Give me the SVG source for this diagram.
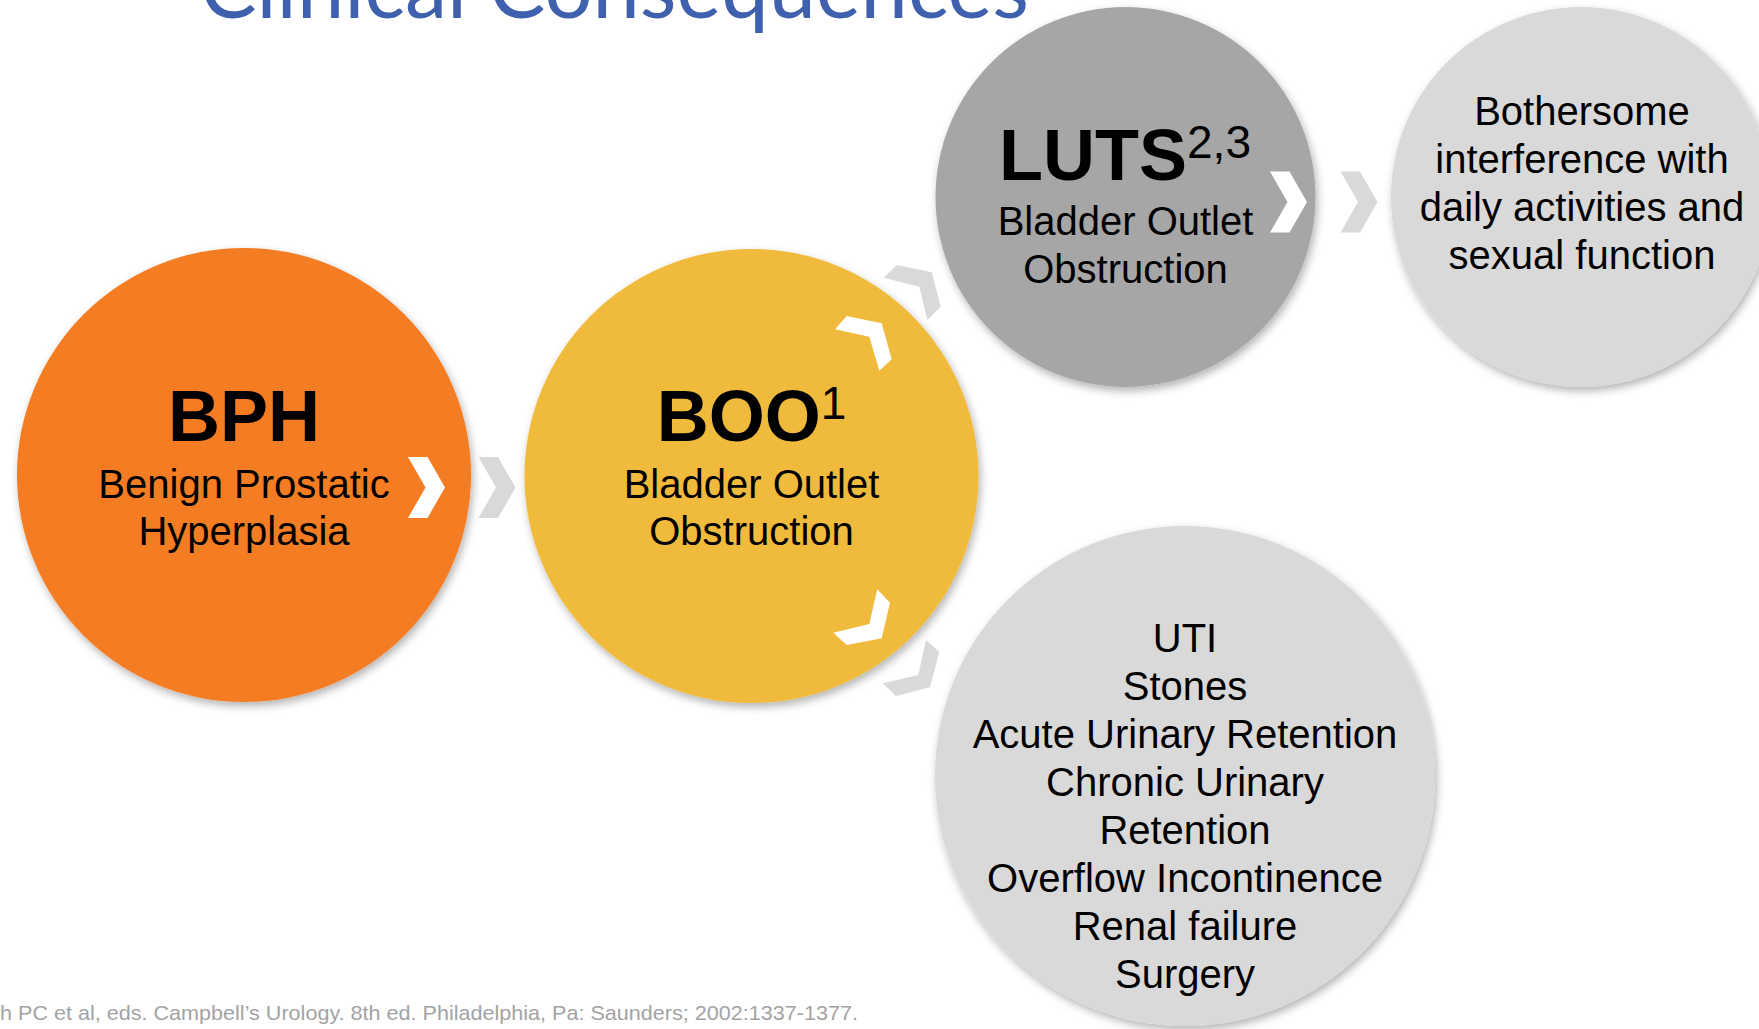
<svg xmlns="http://www.w3.org/2000/svg" xmlns:xlink="http://www.w3.org/1999/xlink" width="1759" height="1029" viewBox="0 0 1759 1029">
<style>
.t{font-family:"Liberation Sans",Arial,sans-serif;fill:#000;text-anchor:middle;}
.big{font-size:72px;font-weight:bold;}
.sub{font-size:40px;}
.sup{font-size:46px;font-weight:normal;}
.title{font-family:Lato,"Open Sans",sans-serif;font-size:86px;fill:#3F60AC;}
.foot{font-family:"Liberation Sans",Arial,sans-serif;font-size:21px;fill:#A3A3A3;}
.cw{fill:#FFFFFF;}
.cg{fill:#D9D9D9;}
</style>
<defs>
<filter id="sh" x="-10%" y="-10%" width="125%" height="125%">
<feDropShadow dx="2" dy="4" stdDeviation="4" flood-color="#000" flood-opacity="0.3"/>
</filter>
<path id="chev" d="M-18.5,-30.5 L1,-30.5 L18.5,0 L1,30.5 L-18.5,30.5 L-1,0 Z"/>
</defs>
<rect width="1759" height="1029" fill="#FFFFFF"/>
<text class="title" x="200" y="17.5" textLength="829" lengthAdjust="spacingAndGlyphs">Clinical Consequences</text>

<g id="node-bph">
<circle cx="244" cy="475" r="227" fill="#F47C21" filter="url(#sh)"/>
<text class="t big" x="244" y="441">BPH</text>
<text class="t sub" x="244" y="498">Benign Prostatic</text>
<text class="t sub" x="244" y="545">Hyperplasia</text>
</g>

<g id="node-boo">
<circle cx="751.5" cy="476" r="227" fill="#F0BA3C" filter="url(#sh)"/>
<text class="t big" x="751.5" y="441">BOO<tspan class="sup" dy="-22">1</tspan></text>
<text class="t sub" x="751.5" y="498">Bladder Outlet</text>
<text class="t sub" x="751.5" y="545">Obstruction</text>
</g>

<g id="node-luts">
<circle cx="1125.5" cy="197" r="190" fill="#A6A6A6" filter="url(#sh)"/>
<text class="t big" x="1125" y="180">LUTS<tspan class="sup" dy="-22">2,3</tspan></text>
<text class="t sub" x="1125.5" y="235">Bladder Outlet</text>
<text class="t sub" x="1125.5" y="283">Obstruction</text>
</g>

<g id="node-bother">
<circle cx="1581" cy="197" r="190" fill="#D9D9D9" filter="url(#sh)"/>
<text class="t sub" x="1582" y="125">Bothersome</text>
<text class="t sub" x="1582" y="173">interference with</text>
<text class="t sub" x="1582" y="221">daily activities and</text>
<text class="t sub" x="1582" y="269">sexual function</text>
</g>

<g id="node-complications">
<circle cx="1185" cy="776" r="250" fill="#D9D9D9" filter="url(#sh)"/>
<text class="t sub" x="1185" y="652">UTI</text>
<text class="t sub" x="1185" y="700">Stones</text>
<text class="t sub" x="1185" y="748">Acute Urinary Retention</text>
<text class="t sub" x="1185" y="796">Chronic Urinary</text>
<text class="t sub" x="1185" y="844">Retention</text>
<text class="t sub" x="1185" y="892">Overflow Incontinence</text>
<text class="t sub" x="1185" y="940">Renal failure</text>
<text class="t sub" x="1185" y="988">Surgery</text>
</g>

<g id="connectors">
<use xlink:href="#chev" href="#chev" class="cw" x="426.5" y="487.5"/>
<use xlink:href="#chev" href="#chev" class="cg" x="497" y="487.5"/>
<use xlink:href="#chev" href="#chev" class="cw" x="1288.5" y="202"/>
<use xlink:href="#chev" href="#chev" class="cg" x="1359" y="202"/>
<polygon class="cw" points="846.7,316 881.7,323.3 891.7,359.3 879.3,370.7 869.3,336.7 835,329.3"/>
<polygon class="cg" points="896.7,265 931.7,272.3 940.7,306.7 927.3,320 919.3,286.7 884,277.7"/>
<polygon class="cw" points="877.3,589.3 890,602.7 881.7,638.3 846.7,645 833.3,632.7 869.3,624"/>
<polygon class="cg" points="926,640 939.3,651.7 930,687.3 896,696 882.7,683.3 918.3,675"/>
</g>

<text class="foot" x="0" y="1020" textLength="858" lengthAdjust="spacingAndGlyphs">h PC et al, eds. Campbell’s Urology. 8th ed. Philadelphia, Pa: Saunders; 2002:1337-1377.</text>
</svg>
